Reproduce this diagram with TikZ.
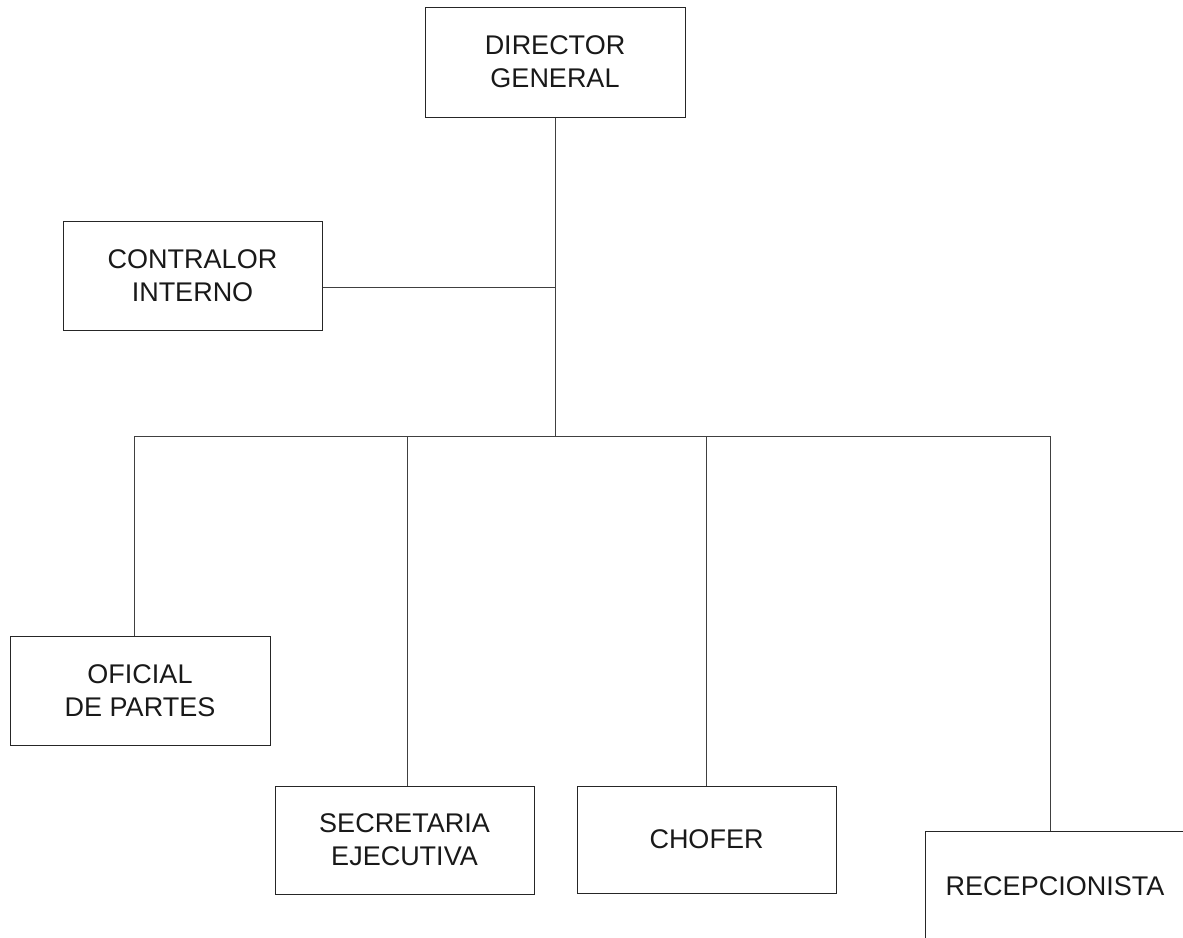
\documentclass[tikz,border=0pt]{standalone}
\usepackage{fontspec}
\setmainfont{Liberation Sans}
\begin{document}
\begin{tikzpicture}[x=1pt,y=-1pt,
  box/.style={draw=black!85, line width=1pt, rectangle, inner sep=0pt, align=center,
    font=\fontsize{27}{33}\selectfont, text=black!90},
  conn/.style={draw=black!75, line width=1pt}]
\useasboundingbox (0,0) rectangle (1183,937);
\clip (0,0) rectangle (1183,937);
\node[box, minimum width=260pt, minimum height=110pt] (dir) at (555,62) {DIRECTOR\\GENERAL};
\node[box, minimum width=259pt, minimum height=109pt] (con) at (192.5,275.5) {CONTRALOR\\INTERNO};
\node[box, minimum width=260pt, minimum height=109pt] (ofi) at (140,690.5) {OFICIAL\\DE PARTES};
\node[box, minimum width=259pt, minimum height=108pt] (sec) at (404.5,840) {SECRETARIA\\EJECUTIVA};
\node[box, minimum width=259pt, minimum height=107pt] (cho) at (706.5,839.5) {CHOFER};
\node[box, minimum width=260pt, minimum height=110pt] (rec) at (1055,886) {RECEPCIONISTA};
\coordinate (j) at (555,287);
\coordinate (bus) at (555,436);
\coordinate (b1) at (134,436);
\coordinate (b2) at (407,436);
\coordinate (b3) at (706,436);
\coordinate (b4) at (1050,436);
\draw[conn] (dir.south) -- (bus);
\draw[conn] (con.east |- j) -- (j);
\draw[conn] (b1) -- (b4);
\draw[conn] (b1) -- (b1 |- ofi.north);
\draw[conn] (b2) -- (b2 |- sec.north);
\draw[conn] (b3) -- (b3 |- cho.north);
\draw[conn] (b4) -- (b4 |- rec.north);
\end{tikzpicture}
\end{document}
